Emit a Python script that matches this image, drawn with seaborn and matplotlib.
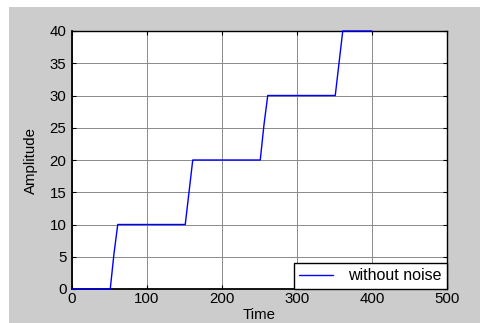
import matplotlib
matplotlib.use("Agg")
import matplotlib.pyplot as plt
import seaborn as sns
import pandas as pd
from matplotlib.patches import Rectangle

# Staircase response: four ramps of 10 units each
time = [0, 51, 56, 61, 151, 156, 161, 251, 256, 261, 351, 356, 361, 400]
amplitude = [0, 0, 5.5, 10, 10, 15, 20, 20, 25.5, 30, 30, 35, 40, 40]
series_label = "without noise"
x_ticks = [0, 100, 200, 300, 400, 500]
y_ticks = [0, 5, 10, 15, 20, 25, 30, 35, 40]

sns.set_style("white")
plt.rcParams["font.family"] = ["Liberation Sans", "DejaVu Sans"]
plt.rcParams["font.size"] = 10.8
plt.rcParams["text.color"] = "black"
plt.rcParams["axes.labelcolor"] = "black"

df = pd.DataFrame({"Time": time, "Amplitude": amplitude})

fig = plt.figure(figsize=(4.8, 3.23), dpi=100, facecolor="white")
# grey figure panel, drawn beneath the axes
panel = Rectangle((9 / 480, 0), 1 - 9 / 480, (323 - 7) / 323,
                  transform=fig.transFigure, facecolor="#cccccc",
                  edgecolor="none", zorder=-10)
fig.add_artist(panel)

ax = fig.add_axes([72 / 480, (323 - 289) / 323, 375 / 480, 258 / 323])
ax.set_zorder(5)
ax.set_facecolor("white")

sns.lineplot(data=df, x="Time", y="Amplitude", ax=ax, color="#0000ff",
             linewidth=1.0, label=series_label, sort=False, estimator=None)
for line in ax.lines:
    line.set_clip_on(False)
    line.set_zorder(3)

ax.set_xlim(0, 500)
ax.set_ylim(0, 40)
ax.set_xticks(x_ticks)
ax.set_yticks(y_ticks)
ax.set_xlabel("Time", labelpad=1.5)
ax.set_ylabel("Amplitude", labelpad=8)

ax.grid(True, color="#8a8a8a", linewidth=0.7, linestyle="-")
ax.set_axisbelow(True)
for side, spine in ax.spines.items():
    spine.set_visible(True)
    spine.set_color("black")
    spine.set_linewidth(1.3 if side in ("left", "bottom") else 1.0)
    spine.set_zorder(2.5)

ax.tick_params(direction="in", length=3, width=0.8, colors="black",
               top=True, right=True, bottom=True, left=True,
               labelsize=10.8)
ax.tick_params(axis="x", pad=2)
ax.tick_params(axis="y", pad=4)

leg = ax.legend(loc="lower right", frameon=True, fancybox=False,
                borderaxespad=0, borderpad=0.35, handlelength=2.1,
                handletextpad=0.95, fontsize=11.5)
leg.get_frame().set_edgecolor("black")
leg.get_frame().set_linewidth(1.0)
leg.get_frame().set_alpha(1)
leg.set_zorder(10)

fig.savefig("out.png", dpi=100, facecolor=fig.get_facecolor())
